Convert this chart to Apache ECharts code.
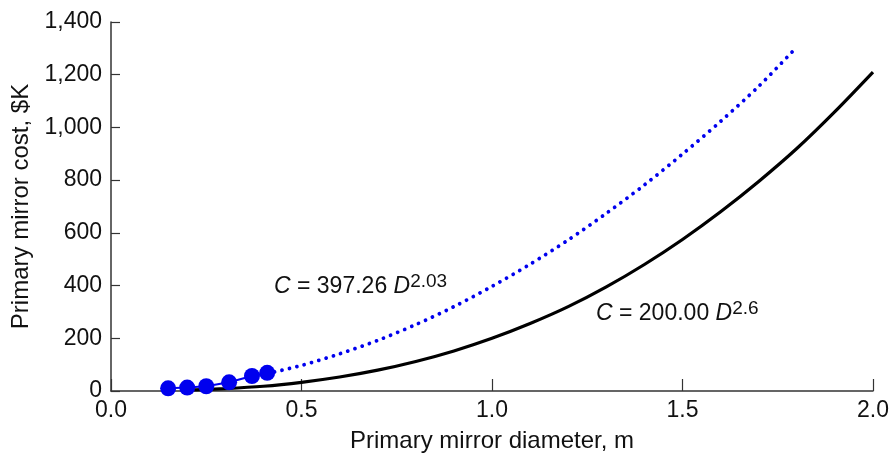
<!DOCTYPE html>
<html>
<head>
<meta charset="utf-8">
<script src="https://cdn.jsdelivr.net/npm/echarts@6/dist/echarts.min.js"></script>
<style>
  html, body { margin: 0; padding: 0; background: #fff; }
  #chart { width: 891px; height: 453px; }
</style>
</head>
<body>
<div id="chart"></div>
<script>
// Measured mirrors: diameter (m) and cost ($K)
const measuredDiameter = [0.15, 0.20, 0.25, 0.31, 0.37, 0.41];
const measuredCost = [10, 13, 18, 33, 57, 69];

// Fitted curve C = 397.26 D^2.03 (dotted blue)
const fitDiameter = [0.41, 0.5, 0.6, 0.7, 0.8, 0.9, 1.0, 1.1, 1.2, 1.3, 1.4, 1.5, 1.6, 1.7, 1.8];
const fitCost = [66, 97, 141, 192, 252, 320, 397, 481, 573, 674, 782, 899, 1023, 1156, 1305];

// Curve C = 200.00 D^2.6 (solid black)
const refDiameter = [0.2, 0.3, 0.4, 0.5, 0.6, 0.7, 0.8, 0.9, 1.0, 1.1, 1.2, 1.3, 1.4, 1.5, 1.6, 1.7, 1.8, 1.9, 2.0];
const refCost = [3, 9, 18, 33, 53, 79, 112, 152, 200, 256, 320, 395, 480, 575, 680, 795, 920, 1060, 1210];

const xTicks = { min: 0, max: 2.0, interval: 0.5 };
const yTicks = { min: 0, max: 1400, interval: 200 };

const FONT = '"Liberation Sans", Arial, sans-serif';
const FS = 23;
const TITLE_FS = 24;
const INK = '#111';
const BLUE = '#0000ee';

const zip = (xs, ys) => xs.map((x, i) => [x, ys[i]]);

const chart = echarts.init(document.getElementById('chart'), null, { renderer: 'canvas' });

const equationRich = {
  i: { fontStyle: 'italic', fontSize: FS, fontFamily: FONT, fill: INK },
  sup: { fontSize: 19, fontFamily: FONT, fill: INK, padding: [0, 0, 11, 0] }
};

chart.setOption({
  animation: false,
  backgroundColor: '#fff',
  grid: {
    left: 111, right: 18, top: 22, bottom: 62,
    containLabel: false,
    outerBoundsMode: 'none'
  },
  xAxis: {
    type: 'value',
    min: xTicks.min, max: xTicks.max, interval: xTicks.interval,
    name: 'Primary mirror diameter, m',
    nameLocation: 'middle',
    nameGap: 38,
    nameTextStyle: { fontFamily: FONT, fontSize: TITLE_FS, color: INK },
    axisLine: { show: true, lineStyle: { color: '#333', width: 1.5 } },
    axisTick: { show: true, inside: true, length: 12, lineStyle: { color: '#333', width: 1.2 } },
    axisLabel: {
      fontFamily: FONT, fontSize: FS, color: INK, margin: 8,
      formatter: v => v.toFixed(1)
    },
    splitLine: { show: false }
  },
  yAxis: {
    type: 'value',
    min: yTicks.min, max: yTicks.max, interval: yTicks.interval,
    name: 'Primary mirror cost, $K',
    nameLocation: 'middle',
    nameGap: 76,
    nameRotate: 90,
    nameTextStyle: { fontFamily: FONT, fontSize: TITLE_FS, color: INK },
    axisLine: { show: true, lineStyle: { color: '#333', width: 1.5 } },
    axisTick: { show: true, inside: true, length: 9, lineStyle: { color: '#333', width: 1.2 } },
    axisLabel: {
      fontFamily: FONT, fontSize: FS, color: INK, margin: 9,
      formatter: v => v.toLocaleString('en-US')
    },
    splitLine: { show: false }
  },
  series: [
    {
      name: 'C = 200.00 D^2.6',
      type: 'line',
      data: zip(refDiameter, refCost),
      smooth: 0.3,
      showSymbol: false,
      lineStyle: { color: '#000', width: 3.2 },
      z: 2
    },
    {
      name: 'C = 397.26 D^2.03',
      type: 'line',
      data: zip(fitDiameter, fitCost),
      smooth: 0.3,
      showSymbol: false,
      lineStyle: { color: BLUE, width: 3.8, type: [0.01, 7.6], cap: 'round' },
      z: 3
    },
    {
      name: 'Measured',
      type: 'line',
      data: zip(measuredDiameter, measuredCost),
      symbol: 'circle',
      symbolSize: 16,
      itemStyle: { color: BLUE },
      lineStyle: { color: BLUE, width: 2 },
      z: 4
    }
  ],
  graphic: [
    {
      type: 'text',
      left: 274, top: 272,
      style: {
        text: '{i|C} = 397.26 {i|D}{sup|2.03}',
        font: FS + 'px ' + FONT,
        fill: INK,
        rich: equationRich
      }
    },
    {
      type: 'text',
      left: 596, top: 299,
      style: {
        text: '{i|C} = 200.00 {i|D}{sup|2.6}',
        font: FS + 'px ' + FONT,
        fill: INK,
        rich: equationRich
      }
    }
  ]
});
</script>
</body>
</html>
